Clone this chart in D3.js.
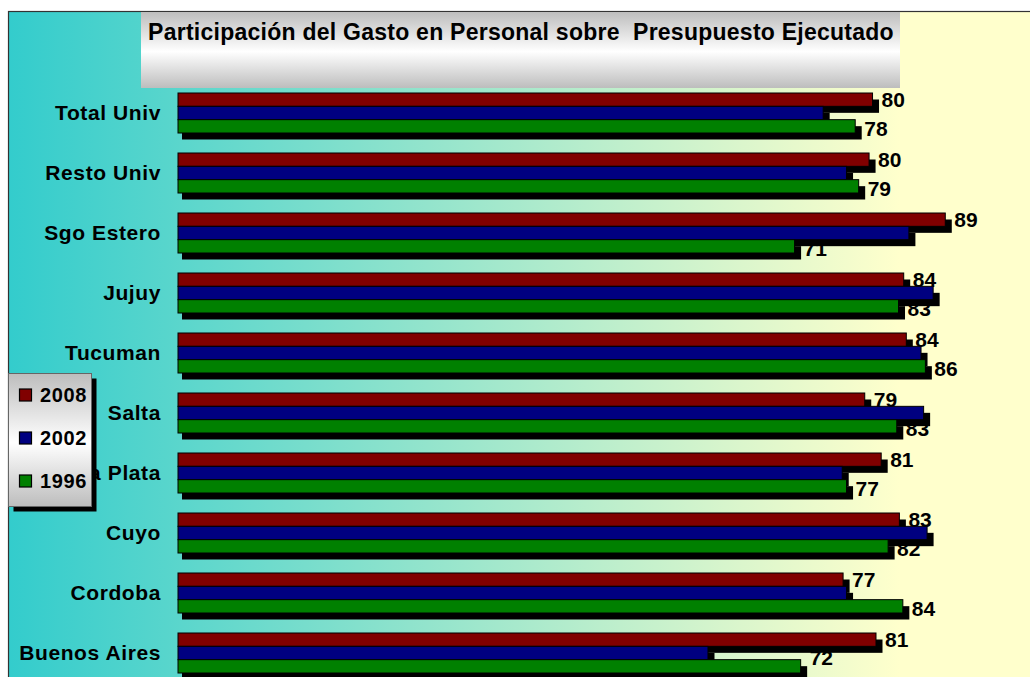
<!DOCTYPE html>
<html>
<head>
<meta charset="utf-8">
<script src="https://cdn.jsdelivr.net/npm/d3@7"></script>
<style>
  html, body { margin: 0; padding: 0; background: #ffffff; }
  svg { display: block; }
  text { font-family: "Liberation Sans", Arial, sans-serif; font-weight: bold; fill: #000; }
</style>
</head>
<body>
<script>
// ---------- data ----------
const categories = ["Total Univ", "Resto Univ", "Sgo Estero", "Jujuy", "Tucuman",
                    "Salta", "La Plata", "Cuyo", "Cordoba", "Buenos Aires"];
const seriesNames = ["2008", "2002", "1996"];
const values2008 = [80.2, 79.8, 88.6, 83.8, 84.1, 79.3, 81.2, 83.3, 76.8, 80.6];
const values2002 = [74.5, 77.2, 84.4, 87.2, 85.8, 86.1, 76.7, 86.5, 77.2, 61.2];
const values1996 = [78.2, 78.6, 71.2, 83.2, 86.3, 83.0, 77.2, 82.0, 83.7, 71.9];
const labeledSeries = ["2008", "1996"];
const titleText = "Participación del Gasto en Personal sobre  Presupuesto Ejecutado";

// ---------- layout ----------
const W = 1030, H = 677;
const colors = { "2008": "#800000", "2002": "#000080", "1996": "#008000" };
const seriesValues = { "2008": values2008, "2002": values2002, "1996": values1996 };

const svg = d3.select("body").append("svg").attr("width", W).attr("height", H);
const defs = svg.append("defs");

const bg = defs.append("linearGradient").attr("id", "bg")
  .attr("gradientUnits", "userSpaceOnUse").attr("x1", 8).attr("x2", 900).attr("y1", 0).attr("y2", 0);
bg.append("stop").attr("offset", 0).attr("stop-color", "#33CCCC");
bg.append("stop").attr("offset", 1).attr("stop-color", "#FFFFCC");

const gray = defs.append("linearGradient").attr("id", "gray")
  .attr("x1", 0).attr("x2", 0).attr("y1", 0).attr("y2", 1);
gray.append("stop").attr("offset", 0).attr("stop-color", "#bdbdbd");
gray.append("stop").attr("offset", 0.52).attr("stop-color", "#ffffff");
gray.append("stop").attr("offset", 1).attr("stop-color", "#bdbdbd");

// outer chart area
svg.append("rect").attr("x", 8.5).attr("y", 11.5).attr("width", 1100).attr("height", 700)
  .attr("fill", "url(#bg)").attr("stroke", "#333").attr("stroke-width", 1.2);

// title box
svg.append("rect").attr("x", 141).attr("y", 12).attr("width", 759).attr("height", 76)
  .attr("fill", "url(#gray)");
svg.append("text").attr("x", 521).attr("y", 40).attr("text-anchor", "middle")
  .style("font-size", "23px").style("letter-spacing", "0.25px")
  .style("white-space", "pre").text(titleText);

// scales
const x = d3.scaleLinear().domain([0, 100]).range([178, 1044]);
const y = d3.scaleBand().domain(categories).range([83, 683]).paddingInner(1 / 3).paddingOuter(1 / 6);
const ys = d3.scaleBand().domain(seriesNames).range([0, y.bandwidth()]);

const bars = [];
categories.forEach((c, i) => {
  seriesNames.forEach(s => bars.push({ cat: c, series: s, value: seriesValues[s][i] }));
});

const plot = svg.append("g");

// value labels (drawn beneath shadows, as in the original)
plot.append("g").selectAll("text")
  .data(bars.filter(d => labeledSeries.includes(d.series)))
  .join("text")
  .attr("x", d => x(d.value) + 9)
  .attr("y", d => Math.min(H - 20,
      y(d.cat) + ys(d.series) + ys.bandwidth() / 2 + (d.series === "1996" ? 2 : 0)))
  .attr("dy", "0.36em")
  .style("font-size", "21px")
  .text(d => d3.format(".0f")(d.value));

// shadows
plot.append("g").selectAll("rect").data(bars).join("rect")
  .attr("x", x(0) + 4)
  .attr("y", d => y(d.cat) + ys(d.series) + 6.5)
  .attr("width", d => x(d.value) - x(0) + 2.5)
  .attr("height", ys.bandwidth())
  .attr("fill", "#000");

// bars
plot.append("g").selectAll("rect").data(bars).join("rect")
  .attr("x", x(0))
  .attr("y", d => y(d.cat) + ys(d.series))
  .attr("width", d => x(d.value) - x(0))
  .attr("height", ys.bandwidth())
  .attr("fill", d => colors[d.series])
  .attr("stroke", "#000").attr("stroke-width", 1);

// category axis
const axis = svg.append("g").attr("transform", `translate(${x(0)},0)`)
  .call(d3.axisLeft(y).tickSize(0).tickPadding(17));
axis.select(".domain").remove();
axis.selectAll("text")
  .style("font-size", "21px").style("letter-spacing", "0.6px")
  .style("font-family", "'Liberation Sans', Arial, sans-serif").style("font-weight", "bold");

// legend
const lg = svg.append("g");
lg.append("rect").attr("x", 13.5).attr("y", 378.5).attr("width", 83).attr("height", 133).attr("fill", "#000");
lg.append("rect").attr("x", 8.5).attr("y", 373.5).attr("width", 83).attr("height", 133)
  .attr("fill", "url(#gray)").attr("stroke", "#666").attr("stroke-width", 1);
const ly = d3.scalePoint().domain(seriesNames).range([395, 481]);
const items = lg.selectAll("g.item").data(seriesNames).join("g").attr("class", "item")
  .attr("transform", d => `translate(0,${ly(d)})`);
items.append("rect").attr("x", 19.5).attr("y", -6).attr("width", 12).attr("height", 12)
  .attr("fill", d => colors[d]).attr("stroke", "#000").attr("stroke-width", 1.2);
items.append("text").attr("x", 40).attr("dy", "0.36em")
  .style("font-size", "20px").style("letter-spacing", "0.6px").text(d => d);
</script>
</body>
</html>
